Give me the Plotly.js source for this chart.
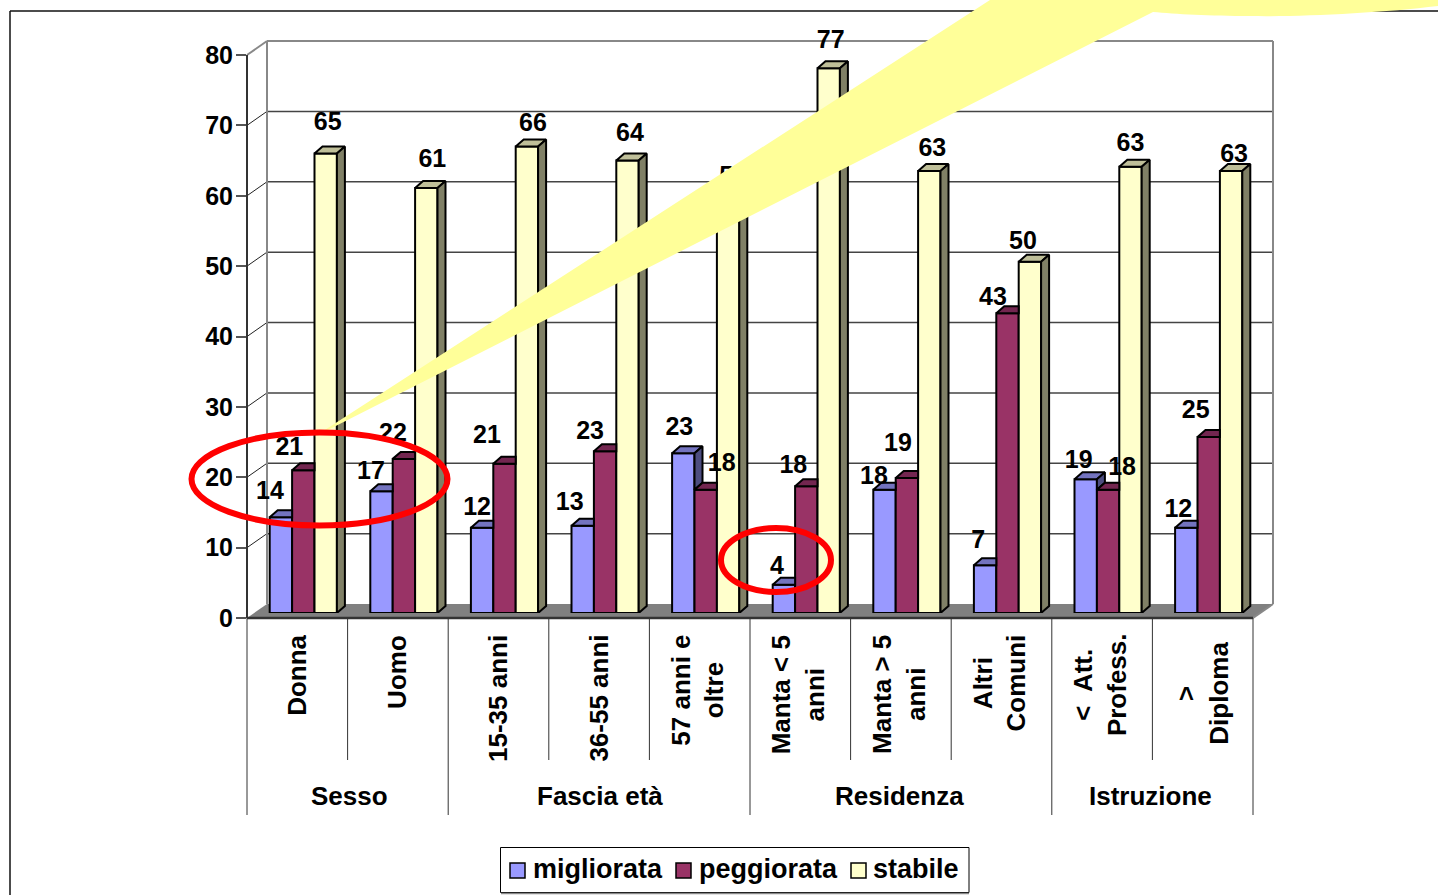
<!DOCTYPE html>
<html><head><meta charset="utf-8">
<script src="https://cdn.plot.ly/plotly-3.0.1.min.js"></script>
<style>html,body{margin:0;padding:0;background:#fff;overflow:hidden}#chart{width:1438px;height:895px}</style>
</head><body><div id="chart"></div>
<script>
// ---- data ----
const categories = ['Donna','Uomo','15-35 anni','36-55 anni','57 anni e<br>oltre','Manta < 5<br>anni','Manta > 5<br>anni','Altri<br>Comuni','<  Att.<br>Profess.','><br>Diploma'];
const groups = ['Sesso','Fascia età','Residenza','Istruzione'];
const groupSizes = [2,3,3,2];
const yTicks = [0,10,20,30,40,50,60,70,80];
const migliorata = [13.6,17.3,12.1,12.4,22.7,4,17.5,6.8,19,12.1];
const peggiorata = [20.3,21.9,21.2,23,17.5,18,19.2,42.6,17.5,25];
const stabile = [65.3,60.4,66.3,64.3,59,77.4,62.8,49.9,63.4,62.8];
const migliorataLabels = [14,17,12,13,23,4,18,7,19,12];
const peggiorataLabels = [21,22,21,23,18,18,19,43,18,25];
const stabileLabels = [65,61,66,64,59,77,63,50,63,63];
// label nudges in pixels relative to the bar's top centre (as placed in the reference)
const migliorataNudgeX = [-11,-10.5,-5,-13,-4,-7,-10.5,-7,-7,-8];
const migliorataNudgeY = [28,22,23,25,28,21,16,27,21,21];
const peggiorataNudgeX = [-14,-11,-17.5,-15,16,-13,-9,-14.5,14,-13];
const peggiorataNudgeY = [25,28,31,22,29,23,37,18,25,29];
const stabileNudgeX = [2,6,6,2.5,5,2,3,-7,0,3];
const stabileNudgeY = [33,31,25,29,24,30,25,23,26,19];
const categoryNudgeX = [-1,-1,-1,-1,-2.5,-2.5,-2.5,-2.5,-2.5,-0.5];
const categoryNudgeY = [1,1,1,1,1,1,1,1,-1,8];
const groupNudgeX = [1.5,1,-1.5,-1.5];

// ---- geometry ----
const W=1438,H=895, CAT=100.6, UNIT=7.0375;
const Y_MAX=86;
const PLOT_L=253, PLOT_R=1259, PLOT_B=613, PLOT_T=PLOT_B-Y_MAX*UNIT;
const FRONT_L=247, FRONT_R=1253, FRONT_B=618, FRONT_T=55, BACK_DX=20, BACK_DY=14;
const GAP=0.332, BW=(1-GAP)/3, DX=8/CAT, DY=7/UNIT, LABEL_LIFT=-3.5;
const px=x=>x/W, py=y=>1-y/H;
const FONT='"Liberation Sans", Arial, sans-serif';
const idx=categories.map((_,i)=>i);

const series=[
 {name:'migliorata',v:migliorata,lab:migliorataLabels,nx:migliorataNudgeX,ny:migliorataNudgeY,front:'#9999FF',topc:'#7373BF',side:'#4D4D80',off:-BW,next:peggiorata,legX:510,legT:533},
 {name:'peggiorata',v:peggiorata,lab:peggiorataLabels,nx:peggiorataNudgeX,ny:peggiorataNudgeY,front:'#993366',topc:'#732650',side:'#4D1A33',off:0,next:stabile,legX:676,legT:699},
 {name:'stabile',v:stabile,lab:stabileLabels,nx:stabileNudgeX,ny:stabileNudgeY,front:'#FFFFCC',topc:'#BFBF99',side:'#808066',off:BW,next:null,legX:851,legT:873}
];

const traces=[];
series.forEach(s=>{
 traces.push({type:'bar',name:s.name,x:idx,y:s.v,showlegend:false,marker:{color:s.front,line:{color:'#000',width:2}},hoverinfo:'x+y+name'});
});
series.forEach(s=>{
 const tx=[],ty=[],sx=[],sy=[];
 s.v.forEach((v,i)=>{
  const xl=i+s.off-BW/2,xr=i+s.off+BW/2;
  const nv=s.next?s.next[i]:0;
  if(nv>=v && s.next){
   tx.push(xl,xl+DX,xr,xr,xl,null); ty.push(v,v+DY,v+DY,v,v,null);
  }else{
   tx.push(xl,xl+DX,xr+DX,xr,xl,null); ty.push(v,v+DY,v+DY,v,v,null);
   sx.push(xr,xr,xr+DX,xr+DX,xr,null); sy.push(nv,v,v+DY,nv+DY,nv,null);
  }
 });
 const poly=(x,y,c)=>({type:'scatter',mode:'lines',x,y,fill:'toself',fillcolor:c,line:{color:'#000',width:2},showlegend:false,hoverinfo:'skip',cliponaxis:false,connectgaps:false});
 traces.push(poly(tx,ty,s.topc));
 if(sx.length) traces.push(poly(sx,sy,s.side));
});
series.forEach(s=>{
 traces.push({type:'scatter',mode:'text',showlegend:false,hoverinfo:'skip',cliponaxis:false,
  x:s.v.map((v,i)=>i+s.off+s.nx[i]/CAT),
  y:s.v.map((v,i)=>v+(s.ny[i]+LABEL_LIFT)/UNIT),
  text:s.lab.map(String),textposition:'middle center',
  textfont:{family:FONT,size:25,color:'#000',weight:700}});
});

// ---- decoration (walls, floor, frame, callout) ----
const line=(x0,y0,x1,y1,color,width,layer)=>({type:'line',xref:'paper',yref:'paper',x0:px(x0),y0:py(y0),x1:px(x1),y1:py(y1),line:{color,width},layer:layer||'below'});
const shapes=[];
const pth=pts=>'M '+pts.map(p=>px(p[0]).toFixed(5)+' '+py(p[1]).toFixed(5)).join(' L ')+' Z';
const rect=(x0,y0,x1,y1,fill,lc,lw)=>({type:'rect',xref:'paper',yref:'paper',x0:px(x0),y0:py(y1),x1:px(x1),y1:py(y0),fillcolor:fill,line:{color:lc,width:lw},layer:'below'});
// outer frame
shapes.push(line(10,895,10,11,'#111',1.5), line(10,11,1438,11,'#111',1.5));
// floor
shapes.push({type:'path',xref:'paper',yref:'paper',path:pth([[FRONT_L,FRONT_B],[FRONT_L+BACK_DX,FRONT_B-BACK_DY],[FRONT_R+BACK_DX,FRONT_B-BACK_DY],[FRONT_R,FRONT_B]]),fillcolor:'#808080',line:{width:0},layer:'below'});
// gridlines on back wall and side wall
yTicks.forEach(t=>{
 const yf=FRONT_B-t*UNIT, yb=yf-BACK_DY;
 if(t>0&&t<80){
  shapes.push(line(FRONT_L+BACK_DX,yb,FRONT_R+BACK_DX,yb,'#444',1.5));
  shapes.push(line(FRONT_L,yf,FRONT_L+BACK_DX,yb,'#222',1));
 }
});
const wallTop=FRONT_T-BACK_DY;
shapes.push(line(FRONT_L,FRONT_T,FRONT_L+BACK_DX,wallTop,'#888',2));
shapes.push(line(FRONT_L+BACK_DX,wallTop,FRONT_R+BACK_DX,wallTop,'#888',2));
shapes.push(line(FRONT_L+BACK_DX,wallTop,FRONT_L+BACK_DX,FRONT_B-BACK_DY,'#888',2));
shapes.push(line(FRONT_R+BACK_DX,wallTop,FRONT_R+BACK_DX,FRONT_B-BACK_DY,'#888',2));
shapes.push(line(FRONT_R,FRONT_B,FRONT_R+BACK_DX,FRONT_B-BACK_DY,'#888',2));
shapes.push(line(FRONT_L,FRONT_B,FRONT_R,FRONT_B,'#333',2.5));
// category separators
let acc=0; const groupStarts=[];
groupSizes.forEach(n=>{groupStarts.push(acc);acc+=n;});
for(let k=0;k<=categories.length;k++){
 const long=k===categories.length||groupStarts.includes(k);
 const x=FRONT_L+k*CAT;
 shapes.push(line(x,FRONT_B,x,long?815:760,'#333',1));
}
// legend box and swatches
shapes.push(rect(500.5,847.5,969,892.5,'#fff','#000',1));
shapes.push(line(501,893.5,969,893.5,'#888',1.5));
series.forEach(s=>shapes.push(rect(s.legX,863,s.legX+15,878,s.front,'#000',1.5)));
// callout beam
shapes.push({type:'path',xref:'paper',yref:'paper',layer:'above',line:{width:0},fillcolor:'#FFFF99',
 path:'M '+px(314)+' '+py(437)+' L '+px(990)+' '+py(0)+' L '+px(1438)+' '+py(0)+' L '+px(1438)+' '+py(6)+
 ' C '+px(1380)+' '+py(13)+' '+px(1300)+' '+py(17)+' '+px(1250)+' '+py(16)+' C '+px(1210)+' '+py(16)+' '+px(1175)+' '+py(14)+' '+px(1153)+' '+py(12)+' Z'});
// red ellipses
const ell=(cx,cy,rx,ry)=>({type:'circle',xref:'paper',yref:'paper',layer:'above',x0:px(cx-rx),x1:px(cx+rx),y0:py(cy+ry),y1:py(cy-ry),line:{color:'#FF0000',width:6},fillcolor:'rgba(0,0,0,0)'});
shapes.push(ell(319.5,479,128,46.5), ell(776,560,55,32));

// ---- category text ----
const annos=[];
categories.forEach((c,i)=>{
 annos.push({xref:'paper',yref:'paper',x:px(FRONT_L+CAT*(i+.5)+categoryNudgeX[i]),y:py(632+categoryNudgeY[i]),xanchor:'center',yanchor:'top',showarrow:false,text:c,textangle:-90,align:'center',
  font:{family:FONT,size:26,color:'#000',weight:700}});
});
groups.forEach((g,j)=>{
 annos.push({xref:'paper',yref:'paper',x:px(FRONT_L+CAT*(groupStarts[j]+groupSizes[j]/2)+groupNudgeX[j]),y:py(796),xanchor:'center',yanchor:'middle',showarrow:false,text:g,
  font:{family:FONT,size:26,color:'#000',weight:700}});
});
series.forEach(s=>{
 annos.push({xref:'paper',yref:'paper',x:px(s.legT),y:py(869),xanchor:'left',yanchor:'middle',showarrow:false,text:s.name,xshift:-1,borderpad:0,
  font:{family:FONT,size:27,color:'#000',weight:700}});
});

const layout={
 width:W,height:H,margin:{l:0,r:0,t:0,b:0,autoexpand:false},paper_bgcolor:'#fff',plot_bgcolor:'rgba(0,0,0,0)',
 barmode:'group',bargap:GAP,bargroupgap:0,
 xaxis:{domain:[px(PLOT_L),px(PLOT_R)],range:[-0.5,9.5],visible:false,fixedrange:true},
 yaxis:{domain:[py(PLOT_B),py(PLOT_T)],range:[0,Y_MAX],visible:false,fixedrange:true},
 yaxis2:{domain:[py(FRONT_B),py(FRONT_T)],range:[0,80],anchor:'free',position:px(FRONT_L),side:'left',
  tickmode:'array',tickvals:yTicks,ticktext:yTicks.map(String),ticks:'outside',ticklen:10,tickwidth:1.5,tickcolor:'#555',
  showline:true,linecolor:'#333',linewidth:2,showgrid:false,zeroline:false,ticklabelstandoff:-2,
  tickfont:{family:FONT,size:25,color:'#000',weight:700},fixedrange:true},
 showlegend:false,
 shapes,annotations:annos
};
traces.push({type:'scatter',x:[0],y:[0],yaxis:'y2',mode:'none',showlegend:false,hoverinfo:'skip'});
Plotly.newPlot('chart',traces,layout,{displayModeBar:false});
</script></body></html>
